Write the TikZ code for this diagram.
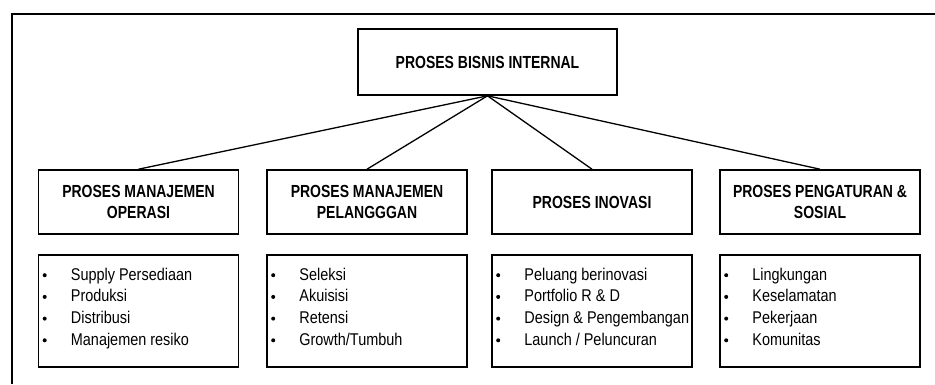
\documentclass[tikz,border=0pt]{standalone}
\usepackage{fontspec}
\setmainfont{Liberation Sans}[FakeStretch=0.85]
\newfontfamily\judulfont{Liberation Sans}[FakeStretch=0.8]
\usetikzlibrary{calc}

\tikzset{
  kotak/.style={draw,line width=1.6pt,minimum width=200pt,minimum height=64pt,
    inner sep=0pt,align=center,font=\judulfont\bfseries\fontsize{17.5}{21}\selectfont},
  isikotak/.style={draw,line width=1.6pt,minimum width=200pt,minimum height=112pt,inner sep=0pt},
  butir/.style={anchor=base west,inner sep=0pt,font=\fontsize{17}{18}\selectfont},
  garis/.style={line width=1.3pt}
}

\begin{document}
\begin{tikzpicture}[x=1pt,y=-1pt]

\useasboundingbox (0,0) rectangle (935,384);

% Bingkai luar
\draw[line width=1.6pt] (935,14) -- (12,14) -- (12,384);

% Kotak utama
\node[kotak,minimum width=259pt,minimum height=66pt] (bisnis) at (487.5,62)
{PROSES BISNIS INTERNAL};

% Empat proses
\foreach \x/\nama/\judul/\isi in {%
138.5/operasi/{PROSES MANAJEMEN\\OPERASI}/{Supply Persediaan,Produksi,Distribusi,Manajemen resiko},%
367/pelanggan/{PROSES MANAJEMEN\\PELANGGGAN}/{Seleksi,Akuisisi,Retensi,Growth/Tumbuh},%
592/inovasi/{PROSES INOVASI}/{Peluang berinovasi,Portfolio R \& D,Design \& Pengembangan,Launch / Peluncuran},%
820/sosial/{PROSES PENGATURAN \&\\SOSIAL}/{Lingkungan,Keselamatan,Pekerjaan,Komunitas}%
}
{
    \node[kotak] (\nama) at (\x,202) {\judul};
    \node[isikotak] (\nama-isi) at (\x,311) {};
    \draw[garis] (bisnis.south) -- (\nama.north);
    \foreach \txt [count=\i] in \isi {
        \node[butir] (\nama-\i) at ($(\nama-isi.north west)+(33,{26+21.7*(\i-1)})$) {\txt};
        \fill ($(\nama-isi.north west)+(7,{21+21.7*(\i-1)})$) circle (2pt);
    }
}

\end{tikzpicture}
\end{document}
